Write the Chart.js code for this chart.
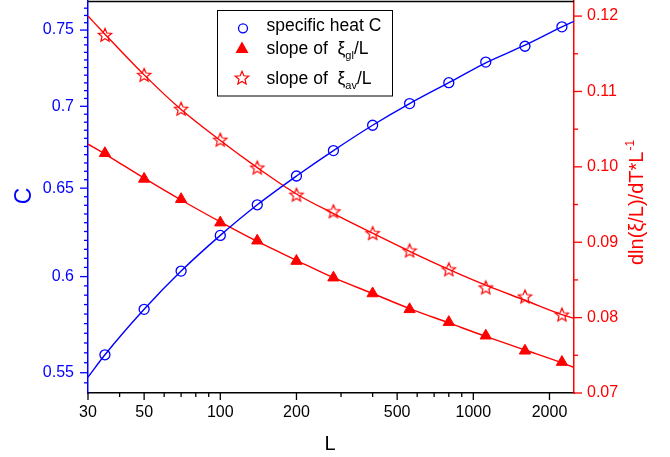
<!DOCTYPE html>
<html>
<head>
<meta charset="utf-8">
<script src="https://cdn.jsdelivr.net/npm/chart.js@4.4.1/dist/chart.umd.min.js"></script>
<style>
  html, body { margin: 0; padding: 0; background: #fff; }
  #wrap { position: relative; width: 670px; height: 457px; }
</style>
</head>
<body>
<div id="wrap"><canvas id="chart"></canvas></div>
<script>
// System sizes L
const sizes = [35, 50, 70, 100, 140, 200, 280, 400, 560, 800, 1120, 1600, 2240];
// Specific heat C (left axis, log scale)
const heatC = [0.559, 0.5825, 0.603, 0.6228, 0.6403, 0.6572, 0.6725, 0.6881, 0.7017, 0.7151, 0.7286, 0.7391, 0.7522];
// Slopes of xi_gl/L and xi_av/L (right axis)
const slopeGl = [0.1018, 0.0984, 0.0957, 0.0926, 0.0902, 0.0875, 0.0853, 0.0832, 0.0811, 0.0794, 0.0776, 0.0756, 0.0741];
const slopeAv = [0.1175, 0.1122, 0.1077, 0.1036, 0.0999, 0.0963, 0.0941, 0.0912, 0.0889, 0.0864, 0.0840, 0.0828, 0.0804];

// Fitted curves (plot edges + each size)
const fitSizes = [30, 35, 50, 70, 100, 140, 200, 280, 400, 560, 800, 1120, 1600, 2240, 2500];
const fitC  = [0.5478, 0.5590, 0.5825, 0.6030, 0.6228, 0.6403, 0.6572, 0.6725, 0.6881, 0.7017, 0.7151, 0.7281, 0.7398, 0.7522, 0.7560];
const fitGl = [0.1030, 0.1017, 0.0985, 0.0956, 0.0927, 0.0901, 0.0876, 0.0853, 0.0832, 0.0812, 0.0793, 0.0775, 0.0757, 0.0740, 0.0734];
const fitAv = [0.1200, 0.1176, 0.1122, 0.1076, 0.1035, 0.0999, 0.0964, 0.0938, 0.0912, 0.0888, 0.0864, 0.0843, 0.0823, 0.0804, 0.0799];

// Tick values and labels
const xMajor = [30, 50, 100, 200, 500, 1000, 2000];
const xMinor = [40, 60, 70, 80, 90, 300, 400, 600, 700, 800, 900];
const cMajor = [0.55, 0.6, 0.65, 0.7, 0.75];
const cLabels = ['0.55', '0.6', '0.65', '0.7', '0.75'];
const slopeMajor = [0.07, 0.08, 0.09, 0.10, 0.11, 0.12];
const slopeLabels = ['0.07', '0.08', '0.09', '0.10', '0.11', '0.12'];

const FONT = "'Liberation Sans', Arial, sans-serif";
const BLUE = '#0000ff';
const RED = '#ff0000';

function pts(xs, ys) {
    return xs.map((x, i) => ({ x: x, y: ys[i] }));
}

// 5-point hollow star
function drawStar(ctx, cx, cy, R, color) {
    const r = R * 0.45;
    ctx.beginPath();
    for (let k = 0; k < 10; k++) {
        const a = -Math.PI / 2 + k * Math.PI / 5;
        const rad = k % 2 === 0 ? R : r;
        const px = cx + Math.cos(a) * rad, py = cy + Math.sin(a) * rad;
        if (k === 0) ctx.moveTo(px, py); else ctx.lineTo(px, py);
    }
    ctx.closePath();
    ctx.strokeStyle = color;
    ctx.lineWidth = 1.2;
    ctx.stroke();
}

const starImg = document.createElement('canvas');
starImg.width = 18; starImg.height = 18;
drawStar(starImg.getContext('2d'), 9, 9.6, 7, RED);

// minor ticks every 0.005 between the bounds
function stepTicks(lo, hi, majors) {
    const out = [];
    for (let k = Math.round(lo * 200); k <= Math.round(hi * 200); k++) {
        const v = k / 200;
        out.push({ value: v, major: majors.some(m => Math.abs(m - v) < 1e-9) });
    }
    return out;
}

// fixed axis sizes, no label overhang padding
function fixSize(prop, size) {
    return s => {
        s[prop] = size;
        s.paddingTop = 0; s.paddingBottom = 0;
        s.paddingLeft = 0; s.paddingRight = 0;
    };
}

const decorPlugin = {
    id: 'decor',
    afterDraw(chart) {
        const ctx = chart.ctx;
        const area = chart.chartArea;
        const sx = chart.scales.x, sc = chart.scales.yC, ss = chart.scales.ySlope;
        ctx.save();

        // top frame
        ctx.strokeStyle = '#000';
        ctx.lineWidth = 1.5;
        ctx.beginPath();
        ctx.moveTo(area.left, area.top + 0.5);
        ctx.lineTo(area.right, area.top + 0.5);
        ctx.stroke();

        // tick marks
        ctx.lineWidth = 1.3;
        ctx.strokeStyle = '#000';
        sx.ticks.forEach(t => {
            const p = sx.getPixelForValue(t.value);
            ctx.beginPath();
            ctx.moveTo(p, area.bottom);
            ctx.lineTo(p, area.bottom + (t.major ? 7 : 4));
            ctx.stroke();
        });
        ctx.strokeStyle = BLUE;
        sc.ticks.forEach(t => {
            const p = sc.getPixelForValue(t.value);
            ctx.beginPath();
            ctx.moveTo(area.left, p);
            ctx.lineTo(area.left - (t.major ? 8 : 4), p);
            ctx.stroke();
        });
        ctx.strokeStyle = RED;
        ss.ticks.forEach(t => {
            const p = ss.getPixelForValue(t.value);
            ctx.beginPath();
            ctx.moveTo(area.right, p);
            ctx.lineTo(area.right + (t.major ? 8 : 4), p);
            ctx.stroke();
        });

        // axis titles
        ctx.textAlign = 'center';
        ctx.textBaseline = 'middle';
        ctx.fillStyle = '#000';
        ctx.font = '20px ' + FONT;
        ctx.fillText('L', 330, 444);

        ctx.save();
        ctx.translate(25, 196);
        ctx.rotate(-Math.PI / 2);
        ctx.fillStyle = BLUE;
        ctx.font = '23px ' + FONT;
        ctx.fillText('C', 0, 0);
        ctx.restore();

        ctx.save();
        ctx.translate(643, 203);
        ctx.rotate(-Math.PI / 2);
        ctx.fillStyle = RED;
        ctx.textAlign = 'left';
        ctx.textBaseline = 'alphabetic';
        const main = 'dln(\u03BE/L)/dT*L';
        ctx.font = '20px ' + FONT;
        const w1 = ctx.measureText(main).width;
        ctx.font = '12px ' + FONT;
        const w2 = ctx.measureText('-1').width;
        const x0 = -(w1 + w2) / 2;
        ctx.font = '20px ' + FONT;
        ctx.fillText(main, x0, 0);
        ctx.font = '12px ' + FONT;
        ctx.fillText('-1', x0 + w1 + 1, -9);
        ctx.restore();

        // legend
        ctx.fillStyle = '#fff';
        ctx.fillRect(217.5, 10.5, 175, 85.5);
        ctx.strokeStyle = '#000';
        ctx.lineWidth = 1;
        ctx.strokeRect(217.5, 10.5, 175, 85.5);

        ctx.beginPath();
        ctx.arc(243, 28.3, 4.5, 0, Math.PI * 2);
        ctx.strokeStyle = BLUE;
        ctx.lineWidth = 1.3;
        ctx.stroke();

        ctx.beginPath();
        ctx.moveTo(242, 41.5);
        ctx.lineTo(248.5, 53);
        ctx.lineTo(235.5, 53);
        ctx.closePath();
        ctx.fillStyle = RED;
        ctx.fill();

        drawStar(ctx, 242, 78.3, 7, RED);

        ctx.fillStyle = '#000';
        ctx.textAlign = 'left';
        ctx.textBaseline = 'alphabetic';
        ctx.font = '17.5px ' + FONT;
        ctx.fillText('specific heat C', 266.5, 30.5);
        [['gl', 53.5], ['av', 83.5]].forEach(([sub, y]) => {
            ctx.font = '17.5px ' + FONT;
            const head = 'slope of  \u03BE';
            ctx.fillText(head, 266.5, y);
            let x = 266.5 + ctx.measureText(head).width;
            ctx.font = '11px ' + FONT;
            ctx.fillText(sub, x, y + 5);
            x += ctx.measureText(sub).width;
            ctx.font = '17.5px ' + FONT;
            ctx.fillText('/L', x, y);
        });

        ctx.restore();
    }
};

new Chart(document.getElementById('chart'), {
    type: 'scatter',
    data: {
        datasets: [
            {
                label: 'specific heat C fit',
                data: pts(fitSizes, fitC),
                yAxisID: 'yC',
                showLine: true,
                borderColor: BLUE,
                borderWidth: 1.4,
                pointRadius: 0,
                cubicInterpolationMode: 'monotone'
            },
            {
                label: 'slope of xi_gl/L fit',
                data: pts(fitSizes, fitGl),
                yAxisID: 'ySlope',
                showLine: true,
                borderColor: RED,
                borderWidth: 1.4,
                pointRadius: 0,
                cubicInterpolationMode: 'monotone'
            },
            {
                label: 'slope of xi_av/L fit',
                data: pts(fitSizes, fitAv),
                yAxisID: 'ySlope',
                showLine: true,
                borderColor: RED,
                borderWidth: 1.4,
                pointRadius: 0,
                cubicInterpolationMode: 'monotone'
            },
            {
                label: 'specific heat C',
                data: pts(sizes, heatC),
                yAxisID: 'yC',
                pointStyle: 'circle',
                pointRadius: 5,
                borderColor: BLUE,
                backgroundColor: 'rgba(0,0,0,0)',
                borderWidth: 1.3
            },
            {
                label: 'slope of xi_gl/L',
                data: pts(sizes, slopeGl),
                yAxisID: 'ySlope',
                pointStyle: 'triangle',
                pointRadius: 6.5,
                borderColor: RED,
                backgroundColor: RED,
                borderWidth: 1
            },
            {
                label: 'slope of xi_av/L',
                data: pts(sizes, slopeAv),
                yAxisID: 'ySlope',
                pointStyle: starImg,
                pointRadius: 7
            }
        ]
    },
    options: {
        responsive: true,
        maintainAspectRatio: false,
        animation: false,
        layout: { autoPadding: false, padding: { top: 1, left: 0, right: 0, bottom: 0 } },
        plugins: {
            legend: { display: false },
            tooltip: { enabled: false },
            title: { display: false }
        },
        scales: {
            x: {
                type: 'logarithmic',
                position: 'bottom',
                bounds: 'data',
                min: 30,
                max: 2500,
                afterBuildTicks: s => {
                    s.ticks = [...xMajor, ...xMinor].sort((a, b) => a - b)
                        .map(v => ({ value: v, major: xMajor.includes(v) }));
                },
                afterFit: fixSize('height', 64),
                grid: { display: false, drawTicks: false },
                border: { color: '#000', width: 1.5 },
                ticks: {
                    autoSkip: false,
                    maxRotation: 0,
                    padding: 10,
                    color: '#000',
                    font: { family: FONT, size: 16 },
                    callback: v => xMajor.includes(v) ? String(v) : ''
                }
            },
            yC: {
                type: 'logarithmic',
                position: 'left',
                bounds: 'data',
                min: 0.54,
                max: 0.77,
                afterBuildTicks: s => { s.ticks = stepTicks(0.545, 0.765, cMajor); },
                afterFit: fixSize('width', 88),
                grid: { display: false, drawTicks: false },
                border: { color: BLUE, width: 1.5 },
                ticks: {
                    autoSkip: false,
                    padding: 14,
                    color: BLUE,
                    font: { family: FONT, size: 16 },
                    callback: v => {
                        const i = cMajor.findIndex(m => Math.abs(m - v) < 1e-9);
                        return i >= 0 ? cLabels[i] : '';
                    }
                }
            },
            ySlope: {
                type: 'linear',
                position: 'right',
                bounds: 'data',
                min: 0.07,
                max: 0.122,
                afterBuildTicks: s => { s.ticks = stepTicks(0.07, 0.12, slopeMajor); },
                afterFit: fixSize('width', 96),
                grid: { display: false, drawTicks: false },
                border: { color: RED, width: 1.5 },
                ticks: {
                    autoSkip: false,
                    padding: 13,
                    color: RED,
                    font: { family: FONT, size: 16 },
                    callback: v => {
                        const i = slopeMajor.findIndex(m => Math.abs(m - v) < 1e-9);
                        return i >= 0 ? slopeLabels[i] : '';
                    }
                }
            }
        }
    },
    plugins: [decorPlugin]
});
</script>
</body>
</html>
